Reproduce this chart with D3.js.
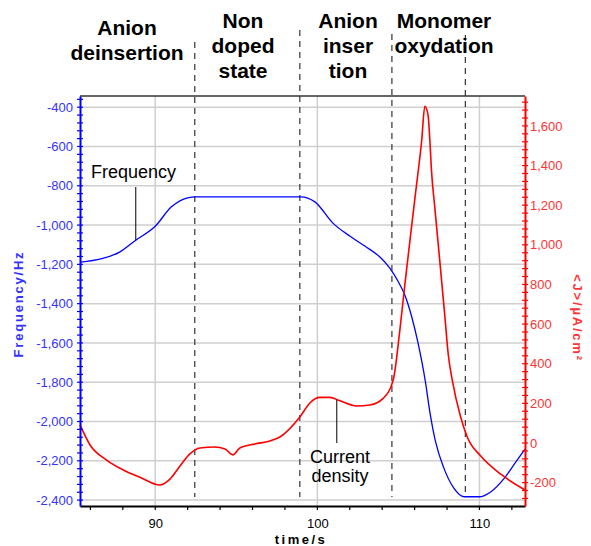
<!DOCTYPE html>
<html>
<head>
<meta charset="utf-8">
<script src="https://cdn.jsdelivr.net/npm/d3@7"></script>
<style>
  body { margin: 0; background: #fff; }
  text { font-family: "Liberation Sans", Arial, sans-serif; }
</style>
</head>
<body>
<svg id="grafico" width="591" height="546"></svg>
<script>
// datos: frecuencia (Hz) vs tiempo (s)
var tiempoFrecuencia = [85.36, 86.7, 87.8, 88.8, 90.0, 91.0, 92.0, 92.5, 98.97, 99.85, 100.96, 102.0, 102.93, 103.86, 104.47, 104.97, 105.4, 105.83, 106.2, 106.65, 106.96, 107.28, 107.8, 108.42, 109.05, 109.98, 110.71, 111.54, 112.28, 112.81];
var frecuencia = [-1189, -1171, -1138, -1077, -1006, -907, -861, -856, -856, -882, -990, -1056, -1107, -1163, -1219, -1285, -1357, -1469, -1596, -1789, -1961, -2099, -2236, -2339, -2383, -2383, -2357, -2288, -2201, -2140];

// densidad de corriente <J> (uA/cm2) vs tiempo (s)
var tiempoCorriente = [85.36, 85.98, 87.0, 88.03, 89.06, 90.29, 90.91, 91.53, 92.14, 92.76, 93.68, 94.3, 94.79, 95.22, 96.15, 97.07, 97.69, 98.92, 99.54, 100.16, 100.77, 101.39, 102.42, 103.24, 104.06, 104.68, 105.09, 105.4, 105.71, 106.07, 106.22, 106.43, 106.63, 106.83, 106.94, 107.04, 107.25, 107.56, 107.86, 108.08, 108.32, 108.84, 109.26, 110.08, 111.34, 112.81];
var corriente = [91, -10, -86, -136, -173, -212, -182, -116, -55, -25, -20, -30, -60, -25, -5, 10, 30, 131, 202, 230, 230, 213, 187, 192, 225, 318, 570, 800, 1020, 1270, 1370, 1520, 1699, 1654, 1528, 1377, 1185, 913, 645, 444, 318, 131, 28, -66, -159, -237];

// ticks de los ejes
var ticksX = [90, 100, 110];
var ticksFrecuencia = [-400, -600, -800, -1000, -1200, -1400, -1600, -1800, -2000, -2200, -2400];
var ticksCorriente = [-200, 0, 200, 400, 600, 800, 1000, 1200, 1400, 1600];

// separadores de fases (s) y sus titulos
var tiemposFases = [92.44, 98.92, 104.6, 109.13];
var titulosFases = [
    { x: 127, y: 35, lineas: ["Anion", "deinsertion"] },
    { x: 243, y: 28, lineas: ["Non", "doped", "state"] },
    { x: 348, y: 28, lineas: ["Anion", "inser", "tion"] },
    { x: 444, y: 28, lineas: ["Monomer", "oxydation"] }
];

var LEFT = 80, RIGHT = 525, TOP = 96, BOTTOM = 506;
var AZUL = "#0000ff", AZUL_TEXTO = "#3333ff", ROJO = "#ff0000", ROJO_TEXTO = "#ff3333";

var contenedor = d3.select("#grafico");

var escalaX = d3.scaleLinear().domain([85.36, 112.81]).range([LEFT, RIGHT]);
var escalaFrec = d3.scaleLinear().domain([-2430, -343]).range([BOTTOM, TOP]);
var escalaCorr = d3.scaleLinear().domain([-318, 1751]).range([BOTTOM, TOP]);

var formato = function (d) { return d3.format(",")(d).replace("\u2212", "-"); };

// rejilla horizontal y vertical
contenedor.append("g").selectAll("line")
    .data(ticksFrecuencia).enter().append("line")
    .attr("x1", LEFT).attr("x2", RIGHT)
    .attr("y1", function (d) { return escalaFrec(d); })
    .attr("y2", function (d) { return escalaFrec(d); })
    .attr("stroke", "#cfcfcf").attr("stroke-width", 1.5);

contenedor.append("g").selectAll("line")
    .data(ticksX).enter().append("line")
    .attr("y1", TOP).attr("y2", BOTTOM)
    .attr("x1", function (d) { return escalaX(d); })
    .attr("x2", function (d) { return escalaX(d); })
    .attr("stroke", "#cfcfcf").attr("stroke-width", 1.5);

// lineas punteadas de las fases
contenedor.append("g").selectAll("line")
    .data(tiemposFases).enter().append("line")
    .attr("x1", function (d) { return escalaX(d); })
    .attr("x2", function (d) { return escalaX(d); })
    .attr("y1", function (d, i) { return [42, 30, 34, 35][i]; })
    .attr("y2", 497)
    .attr("stroke", "#333").attr("stroke-width", 1.2)
    .attr("stroke-dasharray", "6,5");

// curvas
var lineaFrec = d3.line()
    .x(function (d, i) { return escalaX(tiempoFrecuencia[i]); })
    .y(function (d) { return escalaFrec(d); })
    .curve(d3.curveMonotoneX);

var lineaCorr = d3.line()
    .x(function (d, i) { return escalaX(tiempoCorriente[i]); })
    .y(function (d) { return escalaCorr(d); })
    .curve(d3.curveMonotoneX);

contenedor.append("path")
    .attr("d", lineaFrec(frecuencia))
    .attr("fill", "none").attr("stroke", AZUL).attr("stroke-width", 1.3);

contenedor.append("path")
    .attr("d", lineaCorr(corriente))
    .attr("fill", "none").attr("stroke", ROJO).attr("stroke-width", 1.6);

// borde superior
contenedor.append("line")
    .attr("x1", LEFT).attr("x2", RIGHT).attr("y1", TOP).attr("y2", TOP)
    .attr("stroke", "#333").attr("stroke-width", 1.5);

// eje X
var ejeX = d3.axisBottom(escalaX).tickValues(ticksX).tickSize(0).tickPadding(13);
var gX = contenedor.append("g").attr("transform", "translate(0," + BOTTOM + ")").call(ejeX);
gX.select(".domain").attr("stroke", "#000").attr("stroke-width", 2);
gX.selectAll("text").attr("font-size", 13).attr("fill", "#000")
    .style("font-family", "'Liberation Sans', Arial, sans-serif");
gX.append("g").selectAll("line")
    .data(d3.range(86, 113, 2)).enter().append("line")
    .attr("x1", function (d) { return escalaX(d); })
    .attr("x2", function (d) { return escalaX(d); })
    .attr("y1", 0).attr("y2", 4)
    .attr("stroke", "#000").attr("stroke-width", 1.2);

// eje Y izquierdo (frecuencia)
var ejeY = d3.axisLeft(escalaFrec).tickValues(ticksFrecuencia).tickFormat(formato).tickSize(0).tickPadding(7);
var gY = contenedor.append("g").attr("transform", "translate(" + LEFT + ",0)").call(ejeY);
gY.select(".domain").attr("stroke", AZUL).attr("stroke-width", 2);
gY.selectAll("text").attr("font-size", 13).attr("fill", AZUL_TEXTO)
    .style("font-family", "'Liberation Sans', Arial, sans-serif");
gY.append("g").selectAll("line")
    .data(d3.range(-2400, -343, 40)).enter().append("line")
    .attr("y1", function (d) { return escalaFrec(d); })
    .attr("y2", function (d) { return escalaFrec(d); })
    .attr("x1", -3).attr("x2", 3)
    .attr("stroke", AZUL).attr("stroke-width", 1.2);

// eje Y derecho (corriente)
var ejeY2 = d3.axisRight(escalaCorr).tickValues(ticksCorriente).tickFormat(formato).tickSize(0).tickPadding(5);
var gY2 = contenedor.append("g").attr("transform", "translate(" + RIGHT + ",0)").call(ejeY2);
gY2.select(".domain").attr("stroke", ROJO).attr("stroke-width", 2);
gY2.selectAll("text").attr("font-size", 13).attr("fill", ROJO_TEXTO)
    .style("font-family", "'Liberation Sans', Arial, sans-serif");
gY2.append("g").selectAll("line")
    .data(d3.range(-280, 1751, 40)).enter().append("line")
    .attr("y1", function (d) { return escalaCorr(d); })
    .attr("y2", function (d) { return escalaCorr(d); })
    .attr("x1", -3).attr("x2", 3)
    .attr("stroke", ROJO).attr("stroke-width", 1.2);

// titulos de los ejes
contenedor.append("text")
    .attr("transform", "translate(" + 301 + ",544)")
    .attr("text-anchor", "middle").attr("font-size", 13).attr("font-weight", "bold")
    .attr("letter-spacing", 2.5)
    .text("time/s");

contenedor.append("text")
    .attr("transform", "translate(23,304) rotate(-90)")
    .attr("text-anchor", "middle").attr("font-size", 13).attr("font-weight", "bold")
    .attr("letter-spacing", 1.8).attr("fill", AZUL_TEXTO)
    .text("Frequency/Hz");

contenedor.append("text")
    .attr("transform", "translate(573,318) rotate(90)")
    .attr("text-anchor", "middle").attr("font-size", 13).attr("font-weight", "bold")
    .attr("letter-spacing", 1.8).attr("fill", ROJO_TEXTO)
    .text("<J>/\u00b5A/cm\u00b2");

// titulos de las fases
titulosFases.forEach(function (f) {
    var t = contenedor.append("text")
        .attr("text-anchor", "middle").attr("font-size", 21).attr("font-weight", "bold");
    f.lineas.forEach(function (l, i) {
        t.append("tspan").attr("x", f.x).attr("y", f.y + i * 25).text(l);
    });
});

// etiquetas de las curvas
var tFrec = 88.8, tCorr = 101.2;
contenedor.append("line")
    .attr("x1", escalaX(tFrec)).attr("x2", escalaX(tFrec))
    .attr("y1", 187).attr("y2", escalaFrec(-1077))
    .attr("stroke", "#000").attr("stroke-width", 1);
contenedor.append("text")
    .attr("x", 91).attr("y", 178).attr("font-size", 18)
    .text("Frequency");

contenedor.append("line")
    .attr("x1", escalaX(tCorr)).attr("x2", escalaX(tCorr))
    .attr("y1", escalaCorr(218)).attr("y2", 443)
    .attr("stroke", "#000").attr("stroke-width", 1);
var tc = contenedor.append("text").attr("text-anchor", "middle").attr("font-size", 18);
tc.append("tspan").attr("x", 340).attr("y", 463).text("Current");
tc.append("tspan").attr("x", 340).attr("y", 482).text("density");
</script>
</body>
</html>
